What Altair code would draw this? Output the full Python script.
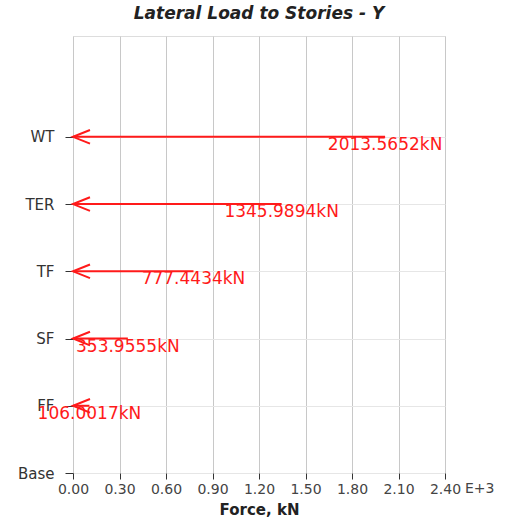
import json
import altair as alt
import pandas as pd

stories = ["Base", "FF", "SF", "TF", "TER", "WT"]
levels = [1, 2, 3, 4, 5]
forces = [106.0017, 353.9555, 777.4434, 1345.9894, 2013.5652]
force_labels = ["106.0017kN", "353.9555kN", "777.4434kN", "1345.9894kN", "2013.5652kN"]
x_ticks = [0, 300, 600, 900, 1200, 1500, 1800, 2100, 2400]

df = pd.DataFrame({
    "level": levels,
    "force": forces,
    "label": force_labels,
    "zero": [0] * len(levels),
})

W, H = 372, 437
RED = "#ff1a1a"
FONT = "DejaVu Sans"

story_expr = json.dumps(stories) + "[datum.value]"

x_enc = alt.X(
    "force:Q",
    scale=alt.Scale(domain=[0, 2400], nice=False),
    axis=alt.Axis(
        values=x_ticks,
        labelExpr="format(datum.value / 1000, '.2f')",
        title="Force, kN",
        titleFont=FONT, titleFontSize=15, titleFontWeight="bold", titleColor="#222",
        titlePadding=6,
        labelFont=FONT, labelFontSize=14, labelColor="#444", labelPadding=3,
        labelFlush=False, labelOverlap=False,
        tickSize=6, tickColor="#333", domain=False,
        grid=True, gridColor="#c8c8c8", gridWidth=1,
    ),
)
y_enc = alt.Y(
    "level:Q",
    scale=alt.Scale(domain=[0, 6.5], nice=False),
    axis=alt.Axis(
        values=list(range(len(stories))),
        labelExpr=story_expr,
        title=None,
        labelFont=FONT, labelFontSize=15, labelColor="#333", labelPadding=11,
        labelFlush=False, labelOverlap=False,
        tickSize=8, tickColor="#333", domain=False,
        grid=True, gridColor="#e6e6e6", gridWidth=1,
    ),
)

base = alt.Chart(df)

rules = base.mark_rule(color=RED, strokeWidth=2).encode(
    x=alt.X("zero:Q", scale=alt.Scale(domain=[0, 2400], nice=False)),
    x2="force:Q",
    y=y_enc,
)
heads = base.mark_point(
    shape="M2,-0.8L0,0L2,0.8", size=289, filled=False, color=RED, strokeWidth=2, opacity=1
).encode(
    x=alt.X("zero:Q", scale=alt.Scale(domain=[0, 2400], nice=False)),
    y="level:Q",
)
texts = base.mark_text(color=RED, font=FONT, fontSize=17, dy=8, align="center", baseline="middle").encode(
    x=x_enc,
    y="level:Q",
    text="label:N",
)
exp = alt.Chart(pd.DataFrame({"t": ["E+3"]})).mark_text(
    font=FONT, fontSize=14, color="#444", align="left", baseline="top"
).encode(x=alt.value(W + 20), y=alt.value(H + 9), text="t:N")

chart = alt.layer(texts, rules, heads, exp).properties(
    width=W, height=H,
    title=alt.TitleParams(
        "Lateral Load to Stories - Y", font=FONT, fontSize=17, fontWeight="bold",
        fontStyle="italic", color="#222", anchor="middle", offset=13,
    ),
    autosize=alt.AutoSizeParams(type="none"),
    padding={"left": 73, "top": 36, "right": 62, "bottom": 49},
).configure_view(stroke=None).configure(background="white")

chart.save("out.html", embed_options={"renderer": "svg", "actions": False})
